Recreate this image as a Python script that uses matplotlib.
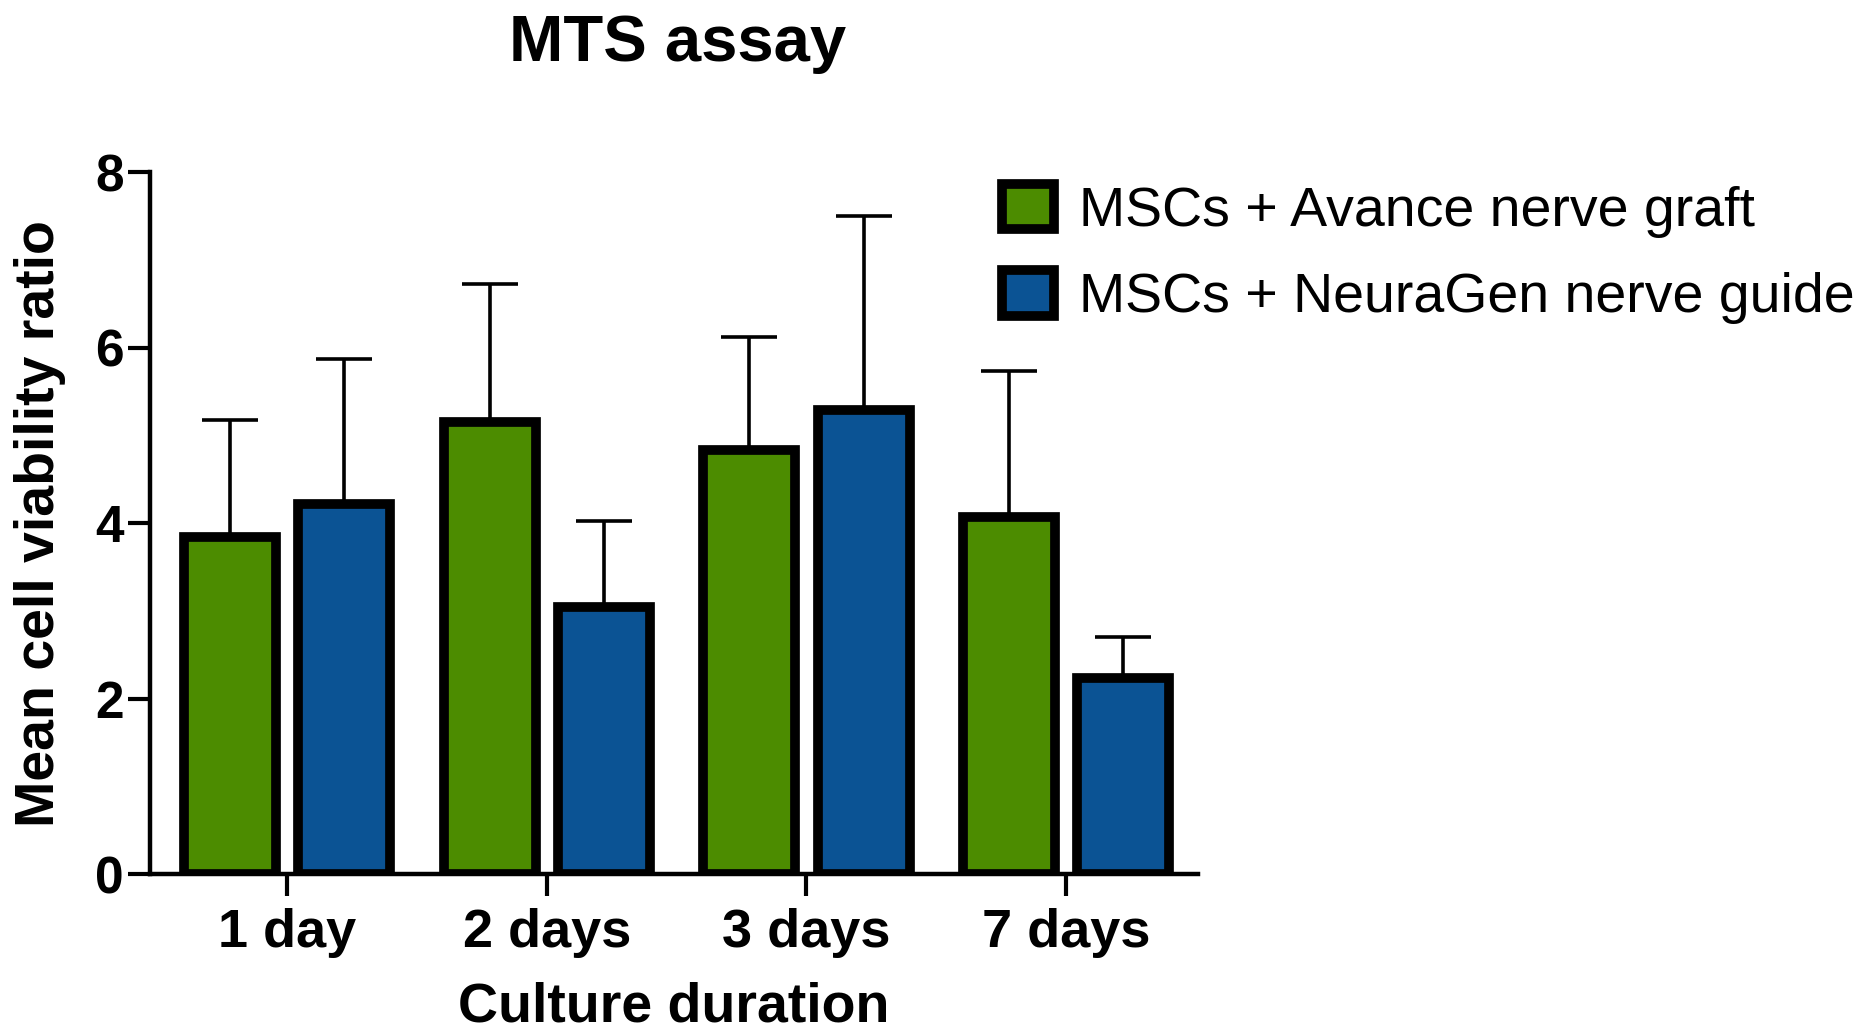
import matplotlib
matplotlib.use("Agg")
import matplotlib.pyplot as plt
import numpy as np

plt.rcParams['font.family'] = ['Liberation Sans', 'DejaVu Sans']

categories = ["1 day", "2 days", "3 days", "7 days"]
series_names = ["MSCs + Avance nerve graft", "MSCs + NeuraGen nerve guide"]
avance_mean = [3.84, 5.15, 4.83, 4.07]
avance_err = [1.34, 1.58, 1.29, 1.67]
neuragen_mean = [4.22, 3.05, 5.29, 2.24]
neuragen_err = [1.65, 0.98, 2.21, 0.46]
y_ticks = [0, 2, 4, 6, 8]

green = '#4c8c00'
blue = '#0b5394'

fig = plt.figure(figsize=(18.66, 10.34), dpi=100)
ax = fig.add_axes([0.0804, 0.1545, 0.5616, 0.6790])

x = np.arange(len(categories))
w = 0.354
off = 0.22
for xs, means, errs, col, name in [(x - off, avance_mean, avance_err, green, series_names[0]),
                                     (x + off, neuragen_mean, neuragen_err, blue, series_names[1])]:
    ax.errorbar(xs, means, yerr=[np.zeros(len(errs)), errs], fmt='none', ecolor='black',
                elinewidth=2.6, capsize=20, capthick=2.6, zorder=1)
    ax.bar(xs, means, width=w, color=col, edgecolor='black', linewidth=7, label=name, zorder=2)

ax.set_xlim(-0.528, 3.508)
ax.set_ylim(0, 8)
ax.set_yticks(y_ticks)
ax.set_xticks(x)
ax.set_xticklabels(categories)
for s in ['top', 'right']:
    ax.spines[s].set_visible(False)
for s in ['left', 'bottom']:
    ax.spines[s].set_linewidth(3.2)
ax.tick_params(axis='both', width=3.0, length=16, labelsize=37, pad=3)
ax.tick_params(axis='x', labelsize=39, pad=8)
for lab in ax.get_xticklabels() + ax.get_yticklabels():
    lab.set_fontweight('bold')

ax.set_xlabel("Culture duration", fontsize=40, fontweight='bold', labelpad=17)
ax.set_ylabel("Mean cell viability ratio", fontsize=40, fontweight='bold', labelpad=21)
fig.text(0.363, 0.957, "MTS assay", fontsize=47, fontweight='bold', ha='center', va='center')

leg = ax.legend(loc='upper left', bbox_to_anchor=(0.537, 0.822), bbox_transform=fig.transFigure,
                frameon=False, fontsize=40, handlelength=0.94, handleheight=0.88,
                handletextpad=0.45, labelspacing=0.58, borderaxespad=0, borderpad=0)
for h in leg.legend_handles:
    h.set_linewidth(7)

fig.savefig("out.png", dpi=100)
